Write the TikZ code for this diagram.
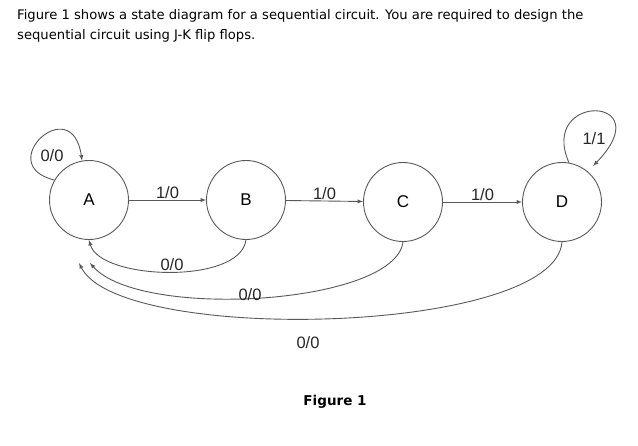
\documentclass[tikz,border=0pt]{standalone}
\usepackage{fontspec}
\setmainfont{Liberation Sans}
\newfontfamily\titlefont{DejaVu Sans}
\begin{document}
\begin{tikzpicture}[x=1pt, y=-1pt, >=latex,
  state/.style={circle, draw=black!65, line width=0.9pt, minimum size=79pt, inner sep=0pt, font=\fontsize{17}{17}\selectfont},
  lbl/.style={font=\fontsize{16.5}{16.5}\selectfont, text=black!85, inner sep=1pt},
  trans/.style={->, draw=black!65, line width=0.9pt}]
\useasboundingbox (0,0) rectangle (638,446);
% Question text
\node[anchor=base west, inner sep=0pt, font=\titlefont\fontsize{13.15}{15}\selectfont] (line1) at (17,20)
  {Figure 1 shows a state diagram for a sequential circuit. You are required to design the};
\node[anchor=base west, inner sep=0pt, font=\titlefont\fontsize{13.15}{15}\selectfont] (line2) at (17,40)
  {sequential circuit using J-K flip flops.};
% States
\node[state] (A) at (89,200) {A};
\node[state] (B) at (246,200) {B};
\node[state] (C) at (403,202) {C};
\node[state] (D) at (562,202) {D};
% Arrow ends below A
\coordinate (inC) at (90,263);
\coordinate (inD) at (79,263);
% Forward transitions
\draw[trans] (A) -- node[lbl, above] (ab) {1/0} (B);
\draw[trans] (B) -- node[lbl, above] (bc) {1/0} (C);
\draw[trans] (C) -- node[lbl, above] (cd) {1/0} (D);
% Self loops
\draw[trans] (A.150) .. controls (-8,165) and (72,90) .. (A.100);
\node[lbl] (aa) at (52,156) {0/0};
\draw[trans] (D.80) .. controls (538,92) and (662,95) .. (593,166);
\node[lbl] (dd) at (594,139) {1/1};
% Returns to A
\draw[trans] (B.south) .. controls (240,285) and (100,280) .. (A.south);
\node[lbl, anchor=south] (ba) at (172,272) {0/0};
\draw[trans] (C.south) .. controls (395,305) and (140,320) .. (inC);
\node[lbl, anchor=south] (ca) at (250,302) {0/0};
\draw[trans] (D.south) .. controls (555,335) and (120,345) .. (inD);
\node[lbl] (da) at (308,343) {0/0};
% Caption
\node[font=\titlefont\bfseries\fontsize{13.5}{15}\selectfont] (cap) at (335,402) {Figure 1};
\end{tikzpicture}
\end{document}
